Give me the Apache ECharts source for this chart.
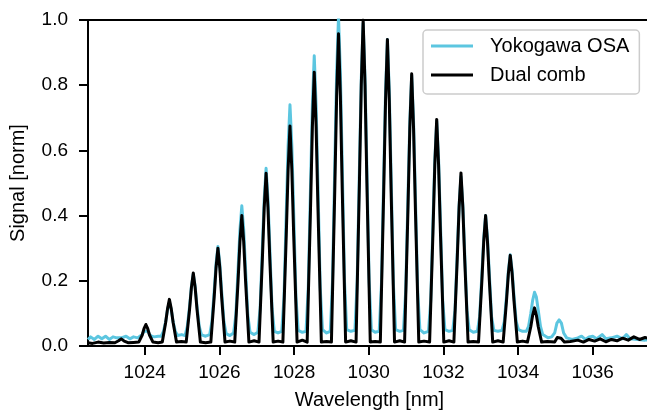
<!DOCTYPE html>
<html>
<head>
<meta charset="utf-8">
<script src="https://cdn.jsdelivr.net/npm/echarts@6/dist/echarts.min.js"></script>
<style>
html,body{margin:0;padding:0;background:#fff;}
#chart{width:647px;height:415px;}
</style>
</head>
<body>
<div id="chart"></div>
<script>
// ---- data ----
var seriesNames = ['Yokogawa OSA', 'Dual comb'];
var xTicks = [1024, 1026, 1028, 1030, 1032, 1034, 1036];
var yTicks = [0, 0.2, 0.4, 0.6, 0.8, 1.0];

// Yokogawa OSA spectrum [wavelength nm, normalised signal]
var yokogawa = [
  [1022.48,0.020],[1022.55,0.028],[1022.65,0.020],[1022.75,0.030],[1022.85,0.022],[1022.95,0.030],[1023.05,0.020],[1023.15,0.028],[1023.25,0.025],[1023.37,0.025],[1023.50,0.030],[1023.60,0.022],[1023.70,0.028],
  [1023.81,0.025],[1023.87,0.030],[1023.93,0.035],[1023.98,0.045],[1024.03,0.050],[1024.08,0.045],[1024.13,0.035],[1024.19,0.030],[1024.25,0.028],[1024.36,0.030],
  [1024.44,0.030],[1024.50,0.045],[1024.56,0.074],[1024.61,0.112],[1024.66,0.135],[1024.71,0.112],[1024.76,0.074],[1024.82,0.045],[1024.88,0.032],[1024.99,0.035],
  [1025.08,0.032],[1025.14,0.060],[1025.20,0.121],[1025.25,0.183],[1025.30,0.220],[1025.35,0.183],[1025.40,0.121],[1025.46,0.060],[1025.52,0.034],[1025.63,0.030],
  [1025.74,0.035],[1025.80,0.075],[1025.86,0.168],[1025.91,0.253],[1025.96,0.305],[1026.01,0.253],[1026.06,0.168],[1026.12,0.075],[1026.18,0.038],[1026.28,0.032],
  [1026.38,0.040],[1026.44,0.095],[1026.50,0.237],[1026.55,0.357],[1026.60,0.430],[1026.65,0.357],[1026.70,0.237],[1026.76,0.095],[1026.82,0.042],[1026.93,0.035],
  [1027.03,0.042],[1027.09,0.115],[1027.15,0.300],[1027.20,0.452],[1027.25,0.545],[1027.30,0.452],[1027.35,0.300],[1027.41,0.115],[1027.47,0.045],[1027.57,0.040],
  [1027.67,0.045],[1027.73,0.150],[1027.79,0.407],[1027.84,0.614],[1027.89,0.740],[1027.94,0.614],[1027.99,0.407],[1028.05,0.150],[1028.11,0.048],[1028.22,0.042],
  [1028.32,0.045],[1028.38,0.180],[1028.44,0.490],[1028.49,0.739],[1028.54,0.890],[1028.59,0.739],[1028.64,0.490],[1028.70,0.180],[1028.76,0.050],[1028.87,0.040],
  [1028.97,0.045],[1029.03,0.200],[1029.09,0.556],[1029.14,0.838],[1029.19,1.010],[1029.24,0.838],[1029.29,0.556],[1029.35,0.200],[1029.41,0.050],[1029.52,0.045],
  [1029.63,0.048],[1029.69,0.200],[1029.75,0.545],[1029.80,0.822],[1029.85,0.990],[1029.90,0.822],[1029.95,0.545],[1030.01,0.200],[1030.07,0.050],[1030.17,0.042],
  [1030.28,0.045],[1030.34,0.190],[1030.40,0.517],[1030.45,0.780],[1030.50,0.940],[1030.55,0.780],[1030.60,0.517],[1030.66,0.190],[1030.72,0.050],[1030.83,0.045],
  [1030.93,0.048],[1030.99,0.170],[1031.05,0.457],[1031.10,0.689],[1031.15,0.830],[1031.20,0.689],[1031.25,0.457],[1031.31,0.170],[1031.37,0.050],[1031.48,0.040],
  [1031.60,0.045],[1031.66,0.140],[1031.72,0.380],[1031.77,0.573],[1031.82,0.690],[1031.87,0.573],[1031.92,0.380],[1031.98,0.140],[1032.04,0.050],[1032.15,0.045],
  [1032.25,0.048],[1032.31,0.110],[1032.37,0.286],[1032.42,0.432],[1032.47,0.520],[1032.52,0.432],[1032.57,0.286],[1032.63,0.110],[1032.69,0.050],[1032.80,0.042],
  [1032.91,0.045],[1032.97,0.090],[1033.03,0.220],[1033.08,0.332],[1033.13,0.400],[1033.18,0.332],[1033.23,0.220],[1033.29,0.090],[1033.35,0.048],[1033.46,0.045],
  [1033.57,0.048],[1033.63,0.075],[1033.69,0.154],[1033.74,0.232],[1033.79,0.280],[1033.84,0.232],[1033.89,0.154],[1033.95,0.075],[1034.01,0.050],[1034.12,0.045],
  [1034.22,0.045],[1034.28,0.060],[1034.34,0.100],[1034.39,0.140],[1034.44,0.165],[1034.49,0.150],[1034.54,0.110],[1034.60,0.060],[1034.66,0.035],[1034.80,0.025],
  [1034.90,0.028],[1034.98,0.040],[1035.04,0.070],[1035.10,0.080],[1035.16,0.070],[1035.22,0.040],[1035.30,0.025],
  [1035.45,0.020],[1035.60,0.025],[1035.70,0.030],[1035.80,0.020],[1035.90,0.028],[1036.00,0.030],[1036.10,0.022],[1036.25,0.035],[1036.35,0.022],[1036.50,0.025],[1036.65,0.030],[1036.80,0.022],[1036.90,0.035],[1037.00,0.022],[1037.20,0.020],[1037.40,0.018],[1037.56,0.020]
];

// Dual comb spectrum [wavelength nm, normalised signal]
var dualComb = [
  [1022.48,0.010],[1022.60,0.008],[1022.75,0.012],[1022.90,0.009],[1023.05,0.011],[1023.20,0.010],[1023.30,0.016],[1023.37,0.022],[1023.45,0.015],[1023.55,0.010],[1023.70,0.011],
  [1023.84,0.012],[1023.93,0.033],[1023.98,0.053],[1024.03,0.066],[1024.08,0.053],[1024.13,0.033],[1024.22,0.012],[1024.36,0.010],
  [1024.47,0.012],[1024.56,0.072],[1024.61,0.114],[1024.66,0.143],[1024.71,0.114],[1024.76,0.072],[1024.85,0.012],[1024.98,0.014],
  [1025.11,0.012],[1025.20,0.112],[1025.25,0.179],[1025.30,0.224],[1025.35,0.179],[1025.40,0.112],[1025.49,0.012],[1025.63,0.010],
  [1025.77,0.012],[1025.86,0.150],[1025.91,0.240],[1025.96,0.300],[1026.01,0.240],[1026.06,0.150],[1026.15,0.012],[1026.28,0.015],
  [1026.41,0.012],[1026.50,0.200],[1026.55,0.320],[1026.60,0.400],[1026.65,0.320],[1026.70,0.200],[1026.79,0.012],[1026.93,0.016],
  [1027.06,0.012],[1027.15,0.265],[1027.20,0.424],[1027.25,0.530],[1027.30,0.424],[1027.35,0.265],[1027.44,0.012],[1027.57,0.015],
  [1027.70,0.012],[1027.79,0.338],[1027.84,0.540],[1027.89,0.675],[1027.94,0.540],[1027.99,0.338],[1028.08,0.012],[1028.22,0.018],
  [1028.35,0.012],[1028.44,0.420],[1028.49,0.672],[1028.54,0.840],[1028.59,0.672],[1028.64,0.420],[1028.73,0.012],[1028.87,0.014],
  [1029.00,0.012],[1029.09,0.479],[1029.14,0.766],[1029.19,0.958],[1029.24,0.766],[1029.29,0.479],[1029.38,0.012],[1029.52,0.016],
  [1029.66,0.012],[1029.75,0.500],[1029.80,0.800],[1029.85,1.000],[1029.90,0.800],[1029.95,0.500],[1030.04,0.012],[1030.17,0.014],
  [1030.31,0.012],[1030.40,0.470],[1030.45,0.752],[1030.50,0.940],[1030.55,0.752],[1030.60,0.470],[1030.69,0.012],[1030.83,0.016],
  [1030.96,0.012],[1031.05,0.418],[1031.10,0.668],[1031.15,0.835],[1031.20,0.668],[1031.25,0.418],[1031.34,0.012],[1031.48,0.015],
  [1031.63,0.012],[1031.72,0.348],[1031.77,0.556],[1031.82,0.695],[1031.87,0.556],[1031.92,0.348],[1032.01,0.012],[1032.15,0.016],
  [1032.28,0.012],[1032.37,0.266],[1032.42,0.425],[1032.47,0.531],[1032.52,0.425],[1032.57,0.266],[1032.66,0.012],[1032.80,0.014],
  [1032.94,0.012],[1033.03,0.200],[1033.08,0.320],[1033.13,0.400],[1033.18,0.320],[1033.23,0.200],[1033.32,0.012],[1033.46,0.016],
  [1033.60,0.012],[1033.69,0.139],[1033.74,0.222],[1033.79,0.278],[1033.84,0.222],[1033.89,0.139],[1033.98,0.012],[1034.12,0.015],
  [1034.25,0.012],[1034.34,0.059],[1034.39,0.094],[1034.44,0.117],[1034.49,0.094],[1034.54,0.059],[1034.63,0.012],[1034.78,0.014],
  [1034.98,0.012],[1035.05,0.026],[1035.10,0.030],[1035.15,0.024],[1035.24,0.012],
  [1035.40,0.014],[1035.60,0.018],[1035.75,0.012],[1035.90,0.020],[1036.05,0.015],[1036.20,0.022],[1036.35,0.013],[1036.50,0.020],[1036.65,0.016],[1036.80,0.024],[1036.95,0.018],[1037.10,0.028],[1037.25,0.020],[1037.40,0.026],[1037.56,0.022]
];

var chart = echarts.init(document.getElementById('chart'), null, {renderer: 'canvas'});
var font = 'Liberation Sans, Arial, Helvetica, sans-serif';
chart.setOption({
  animation: false,
  backgroundColor: '#ffffff',
  grid: {
    left: 88, right: -4, top: 20, bottom: 69,
    containLabel: false, outerBoundsMode: 'none',
    show: true, borderColor: '#000', borderWidth: 2, backgroundColor: 'transparent'
  },
  legend: {
    data: seriesNames,
    orient: 'vertical',
    left: 423, top: 30,
    icon: 'rect', itemWidth: 42, itemHeight: 3, itemGap: 9,
    padding: [6, 10, 9, 8],
    borderColor: '#cccccc', borderWidth: 1.5, borderRadius: 4,
    backgroundColor: 'rgba(255,255,255,0.85)',
    textStyle: {fontFamily: font, fontSize: 20, color: '#000', padding: [0, 0, 0, 12]}
  },
  xAxis: {
    type: 'value', min: 1022.48, max: 1037.56,
    name: 'Wavelength [nm]', nameLocation: 'middle', nameGap: 44,
    nameTextStyle: {fontFamily: font, fontSize: 20, color: '#000'},
    axisLine: {show: true, lineStyle: {color: '#000', width: 2}},
    axisTick: {show: true, inside: false, length: 9, lineStyle: {color: '#000', width: 2}, customValues: xTicks},
    axisLabel: {fontFamily: font, fontSize: 19, color: '#000', margin: 17, customValues: xTicks,
      formatter: function (v) { return String(Math.round(v)); }},
    splitLine: {show: false}
  },
  yAxis: {
    type: 'value', min: 0, max: 1, interval: 0.2,
    name: 'Signal [norm]', nameLocation: 'middle', nameGap: 60,
    nameTextStyle: {fontFamily: font, fontSize: 20, color: '#000'},
    axisLine: {show: true, lineStyle: {color: '#000', width: 2}},
    axisTick: {show: true, inside: false, length: 9, lineStyle: {color: '#000', width: 2}, customValues: yTicks},
    axisLabel: {fontFamily: font, fontSize: 19, color: '#000', margin: 20, customValues: yTicks,
      formatter: function (v) { return v.toFixed(1); }},
    splitLine: {show: false}
  },
  series: [
    {
      name: seriesNames[0], type: 'line', data: yokogawa,
      showSymbol: false, symbol: 'none', clip: true, z: 2,
      lineStyle: {color: '#5cc6e0', width: 3, join: 'round'},
      itemStyle: {color: '#5cc6e0'}
    },
    {
      name: seriesNames[1], type: 'line', data: dualComb,
      showSymbol: false, symbol: 'none', clip: true, z: 3,
      lineStyle: {color: '#000000', width: 3, join: 'round'},
      itemStyle: {color: '#000000'}
    }
  ]
});
</script>
</body>
</html>
